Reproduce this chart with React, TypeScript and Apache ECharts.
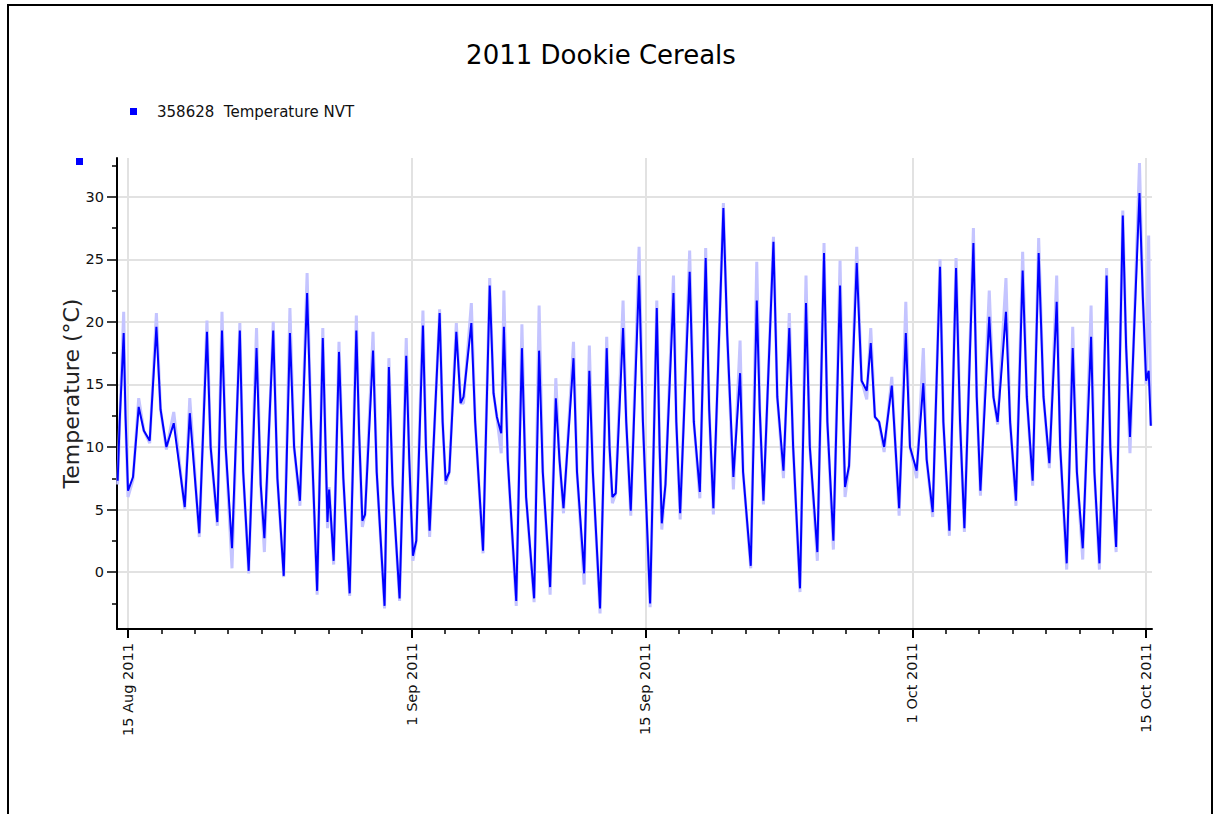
import React, { useEffect, useRef } from "react";
import * as echarts from "echarts";

const chartTitle = "2011 Dookie Cereals";
const seriesName = "358628  Temperature NVT";
const rawSeriesName = "358628 Temperature raw";
const yAxisTitle = "Temperature (°C)";
const startDate = "2011-08-15";
const majorDates = ["2011-08-15", "2011-09-01", "2011-09-15", "2011-10-01", "2011-10-15"];
const minorDates = [
  "2011-08-17", "2011-08-19", "2011-08-21", "2011-08-23", "2011-08-25", "2011-08-27", "2011-08-29",
  "2011-09-03", "2011-09-05", "2011-09-07", "2011-09-09", "2011-09-11", "2011-09-13",
  "2011-09-17", "2011-09-19", "2011-09-21", "2011-09-23", "2011-09-25", "2011-09-27", "2011-09-29",
  "2011-10-03", "2011-10-05", "2011-10-07", "2011-10-09", "2011-10-11", "2011-10-13",
];
const monthNames = ["Jan", "Feb", "Mar", "Apr", "May", "Jun", "Jul", "Aug", "Sep", "Oct", "Nov", "Dec"];
const yMajorTicks = [0, 5, 10, 15, 20, 25, 30];
const yMinorTicks = [-2.5, 2.5, 7.5, 12.5, 17.5, 22.5, 27.5, 32.5];

// time in days after 15 Aug 2011 00:00
const dayOffsets = [
  -0.62, -0.5, -0.26, -0.15, 0.0, 0.3, 0.64, 0.95, 1.3, 1.7,
  1.95, 2.3, 2.74, 3.4, 3.7, 4.27, 4.73, 4.95, 5.35, 5.63,
  5.85, 6.23, 6.7, 6.9, 7.23, 7.7, 7.95, 8.17, 8.7, 8.95,
  9.33, 9.7, 9.95, 10.3, 10.73, 10.95, 11.33, 11.67, 11.95, 12.05,
  12.32, 12.64, 12.9, 13.28, 13.68, 13.85, 14.04, 14.2, 14.68, 14.9,
  15.37, 15.63, 15.85, 16.27, 16.67, 16.85, 17.07, 17.27, 17.67, 17.85,
  18.07, 18.67, 18.85, 19.03, 19.25, 19.67, 19.93, 20.1, 20.57, 20.8,
  21.27, 21.67, 21.9, 22.1, 22.36, 22.52, 22.75, 23.26, 23.6, 23.85,
  24.33, 24.63, 24.85, 25.29, 25.63, 25.85, 26.09, 26.69, 26.9, 27.33,
  27.64, 27.85, 28.28, 28.68, 28.85, 29.02, 29.22, 29.66, 29.85, 30.12,
  30.62, 30.85, 31.28, 31.68, 31.85, 31.98, 32.2, 32.68, 32.85, 33.08,
  33.65, 33.9, 34.26, 34.61, 34.82, 35.07, 35.67, 35.9, 36.27, 36.67,
  36.85, 37.31, 37.67, 37.85, 38.07, 38.67, 38.9, 39.27, 39.62, 39.85,
  40.26, 40.62, 40.85, 41.3, 41.7, 41.9, 42.26, 42.66, 42.85, 42.96,
  43.2, 43.66, 43.95, 44.26, 44.5, 44.75, 45.0, 45.3, 45.76, 46.2,
  46.6, 46.85, 47.25, 47.65, 47.85, 48.21, 48.65, 48.85, 49.21, 49.61,
  49.85, 50.11, 50.65, 50.85, 51.07, 51.6, 51.85, 52.1, 52.6, 52.85,
  53.2, 53.6, 53.85, 54.2, 54.56, 54.85, 55.2, 55.64, 55.85, 56.24,
  56.6, 56.85, 57.2, 57.7, 57.9, 58.2, 58.63, 58.85, 59.2, 59.6,
  59.8, 60.03, 60.6, 60.8, 61.0, 61.15, 61.28,
];

const nvtTemp = [
  7.3, 12.0, 19.1, 12.5, 6.5, 7.6, 13.2, 11.3, 10.5, 19.6,
  13.0, 10.0, 11.9, 5.2, 12.7, 3.1, 19.2, 10.0, 4.0, 19.3,
  10.0, 1.9, 19.3, 8.0, 0.1, 17.9, 7.0, 2.7, 19.3, 7.5,
  -0.3, 19.1, 10.0, 5.7, 22.3, 12.5, -1.5, 18.7, 4.0, 6.6,
  0.9, 17.6, 7.5, -1.7, 19.3, 11.0, 4.1, 4.6, 17.7, 8.0,
  -2.7, 16.4, 7.0, -2.1, 17.3, 9.0, 1.3, 2.5, 19.7, 10.0,
  3.3, 20.7, 12.0, 7.3, 8.0, 19.2, 13.5, 14.0, 19.9, 12.0,
  1.7, 22.9, 14.3, 12.4, 11.1, 19.6, 9.0, -2.3, 17.9, 6.0,
  -2.1, 17.7, 8.0, -1.2, 13.9, 9.0, 5.1, 17.1, 8.0, -0.1,
  16.1, 8.0, -2.9, 17.9, 10.0, 6.0, 6.3, 19.5, 12.0, 4.9,
  23.7, 12.0, -2.5, 21.1, 10.0, 3.9, 7.0, 22.3, 12.0, 4.7,
  24.0, 12.0, 6.4, 25.1, 13.0, 5.1, 29.1, 19.0, 7.6, 15.9,
  8.0, 0.5, 21.7, 13.0, 5.7, 26.4, 14.0, 8.1, 19.5, 10.0,
  -1.3, 21.5, 10.0, 1.6, 25.5, 12.0, 2.5, 22.9, 12.0, 6.8,
  8.5, 24.7, 15.3, 14.5, 18.3, 12.4, 12.0, 10.0, 14.9, 5.1,
  19.1, 10.0, 8.1, 15.1, 9.0, 4.8, 24.4, 12.0, 3.3, 24.3,
  12.0, 3.5, 26.3, 14.0, 6.5, 20.4, 14.0, 12.0, 20.8, 12.0,
  5.7, 24.1, 14.0, 7.3, 25.5, 14.0, 8.7, 21.6, 10.0, 0.7,
  17.9, 8.0, 1.9, 18.8, 8.0, 0.7, 23.7, 10.0, 2.0, 28.5,
  18.0, 10.8, 30.3, 22.0, 15.3, 16.1, 11.7,
];

const rawTemp = [
  7.0, 12.0, 20.8, 12.5, 6.0, 7.4, 13.9, 11.3, 10.3, 20.7,
  13.0, 9.8, 12.8, 5.0, 13.9, 2.8, 20.1, 10.0, 3.7, 20.8,
  10.0, 0.3, 19.9, 8.0, -0.1, 19.5, 7.0, 1.6, 20.0, 7.5,
  -0.4, 21.1, 10.0, 5.3, 23.9, 12.5, -1.8, 19.5, 3.5, 6.8,
  0.6, 18.4, 7.5, -1.9, 20.5, 11.0, 3.6, 4.6, 19.2, 8.0,
  -2.9, 17.1, 7.0, -2.3, 18.7, 9.0, 0.9, 2.5, 20.9, 10.0,
  2.8, 21.0, 12.0, 7.0, 8.0, 19.9, 13.5, 13.5, 21.5, 12.0,
  1.5, 23.5, 14.3, 12.4, 9.5, 22.5, 9.0, -2.7, 19.8, 6.0,
  -2.4, 21.3, 8.0, -1.8, 15.5, 9.0, 4.7, 18.4, 8.0, -1.0,
  18.1, 8.0, -3.3, 18.8, 10.0, 5.5, 6.3, 21.7, 12.0, 4.5,
  26.0, 12.0, -2.8, 21.7, 10.0, 3.4, 7.0, 23.7, 12.0, 4.2,
  25.7, 12.0, 5.9, 25.9, 13.0, 4.6, 29.5, 19.0, 6.6, 18.5,
  8.0, 0.3, 24.8, 13.0, 5.4, 26.8, 14.0, 7.5, 20.7, 10.0,
  -1.6, 23.7, 10.0, 0.9, 26.3, 12.0, 1.8, 24.9, 12.0, 6.0,
  8.5, 26.0, 15.3, 13.8, 19.5, 12.4, 12.0, 9.6, 15.6, 4.5,
  21.6, 10.0, 7.5, 17.9, 9.0, 4.4, 25.0, 12.0, 2.9, 25.1,
  12.0, 3.2, 27.5, 14.0, 6.1, 22.5, 14.0, 11.8, 23.5, 12.0,
  5.3, 25.6, 14.0, 6.9, 26.7, 14.0, 8.3, 23.7, 10.0, 0.2,
  19.6, 8.0, 1.0, 21.3, 8.0, 0.2, 24.3, 10.0, 1.6, 28.9,
  18.0, 9.5, 32.7, 22.0, 15.0, 26.9, 11.7,
];

const DAY_MS = 86400000;
const toTs = (s: string) => {
  const [y, m, d] = s.split("-").map(Number);
  return Date.UTC(y, m - 1, d);
};
const baseTs = toTs(startDate);
const xMin = baseTs - 0.66 * DAY_MS;
const xMax = baseTs + 61.35 * DAY_MS;

const fmtDate = (v: number) => {
  const d = new Date(v);
  return `${d.getUTCDate()} ${monthNames[d.getUTCMonth()]} ${d.getUTCFullYear()}`;
};

const FONT = "'DejaVu Sans', Verdana, sans-serif";

export default function App() {
  const ref = useRef<HTMLDivElement>(null);

  useEffect(() => {
    if (!ref.current) return;
    const chart = echarts.init(ref.current, undefined, { renderer: "svg" });
    const majorTs = majorDates.map(toTs);
    const minorTs = minorDates.map(toTs);
    const nvtData = dayOffsets.map((d, i) => [baseTs + d * DAY_MS, nvtTemp[i]]);
    const rawData = dayOffsets.map((d, i) => [baseTs + d * DAY_MS, rawTemp[i]]);

    const option: any = {
      animation: false,
      backgroundColor: "transparent",
      textStyle: { fontFamily: FONT },
      title: {
        text: chartTitle,
        left: 596,
        top: 37,
        textAlign: "center",
        textStyle: { fontSize: 26, fontWeight: "normal", color: "#000", fontFamily: FONT },
      },
      legend: {
        data: [seriesName],
        left: 125,
        top: 99,
        icon: "rect",
        itemWidth: 7,
        itemHeight: 7,
        selectedMode: false,
        textStyle: { fontSize: 15, color: "#111", padding: [0, 0, 0, 15], fontFamily: FONT },
      },
      grid: {
        left: 117,
        right: 68,
        top: 158,
        bottom: 185,
        containLabel: false,
        outerBoundsMode: "none",
      },
      xAxis: [
        {
          type: "value",
          min: xMin,
          max: xMax,
          axisLine: { show: true, onZero: false, lineStyle: { color: "#000", width: 2 } },
          axisTick: { show: true, customValues: majorTs, length: 9, lineStyle: { color: "#000", width: 2 } },
          axisLabel: {
            customValues: majorTs,
            rotate: 90,
            margin: 14,
            formatter: (v: number) => fmtDate(v),
            fontSize: 14.5,
            color: "#111",
            fontFamily: FONT,
          },
          splitLine: { show: true, lineStyle: { color: "#e2e2e2", width: 2 } },
        },
        {
          type: "value",
          min: xMin,
          max: xMax,
          position: "bottom",
          axisLine: { show: false, onZero: false },
          axisTick: { show: true, customValues: minorTs, length: 5, lineStyle: { color: "#000", width: 1.5 } },
          axisLabel: { show: false },
          splitLine: { show: false },
        },
      ],
      yAxis: [
        {
          type: "value",
          min: -4.55,
          max: 33.1,
          name: yAxisTitle,
          nameLocation: "middle",
          nameGap: 35,
          nameMoveOverlap: false,
          nameTextStyle: { fontSize: 22, color: "#222", fontFamily: FONT },
          axisLine: { show: true, onZero: false, lineStyle: { color: "#000", width: 2 } },
          axisTick: { show: true, customValues: yMajorTicks, length: 10, lineStyle: { color: "#000", width: 1.5 } },
          axisLabel: { customValues: yMajorTicks, margin: 13, fontSize: 14.5, color: "#111", fontFamily: FONT },
          splitLine: { show: true, lineStyle: { color: "#e2e2e2", width: 2 } },
        },
        {
          type: "value",
          min: -4.55,
          max: 33.1,
          position: "left",
          axisLine: { show: false, onZero: false },
          axisTick: { show: true, customValues: yMinorTicks, length: 5, lineStyle: { color: "#000", width: 1.5 } },
          axisLabel: { show: false },
          splitLine: { show: false },
        },
      ],
      series: [
        {
          name: rawSeriesName,
          type: "line",
          data: rawData,
          symbol: "none",
          silent: true,
          lineStyle: { color: "#c4c4ff", width: 3 },
          itemStyle: { color: "#c4c4ff" },
          z: 2,
        },
        {
          name: seriesName,
          type: "line",
          data: nvtData,
          symbol: "none",
          lineStyle: { color: "#0000ff", width: 2 },
          itemStyle: { color: "#0000ff" },
          z: 3,
        },
      ],
      graphic: [
        {
          type: "rect",
          left: 76,
          top: 158,
          shape: { width: 7, height: 7 },
          style: { fill: "#0000ff" },
        },
      ],
    };

    chart.setOption(option);
    return () => chart.dispose();
  }, []);

  return (
    <div style={{ position: "fixed", left: 0, top: 0, width: 1220, height: 814, background: "#fff" }}>
      <div
        style={{
          position: "absolute",
          left: 7,
          top: 4,
          width: 1202,
          height: 820,
          borderTop: "2px solid #000",
          borderLeft: "2px solid #000",
          borderRight: "2px solid #000",
        }}
      />
      <div ref={ref} style={{ position: "absolute", left: 0, top: 0, width: 1220, height: 814 }} />
    </div>
  );
}
